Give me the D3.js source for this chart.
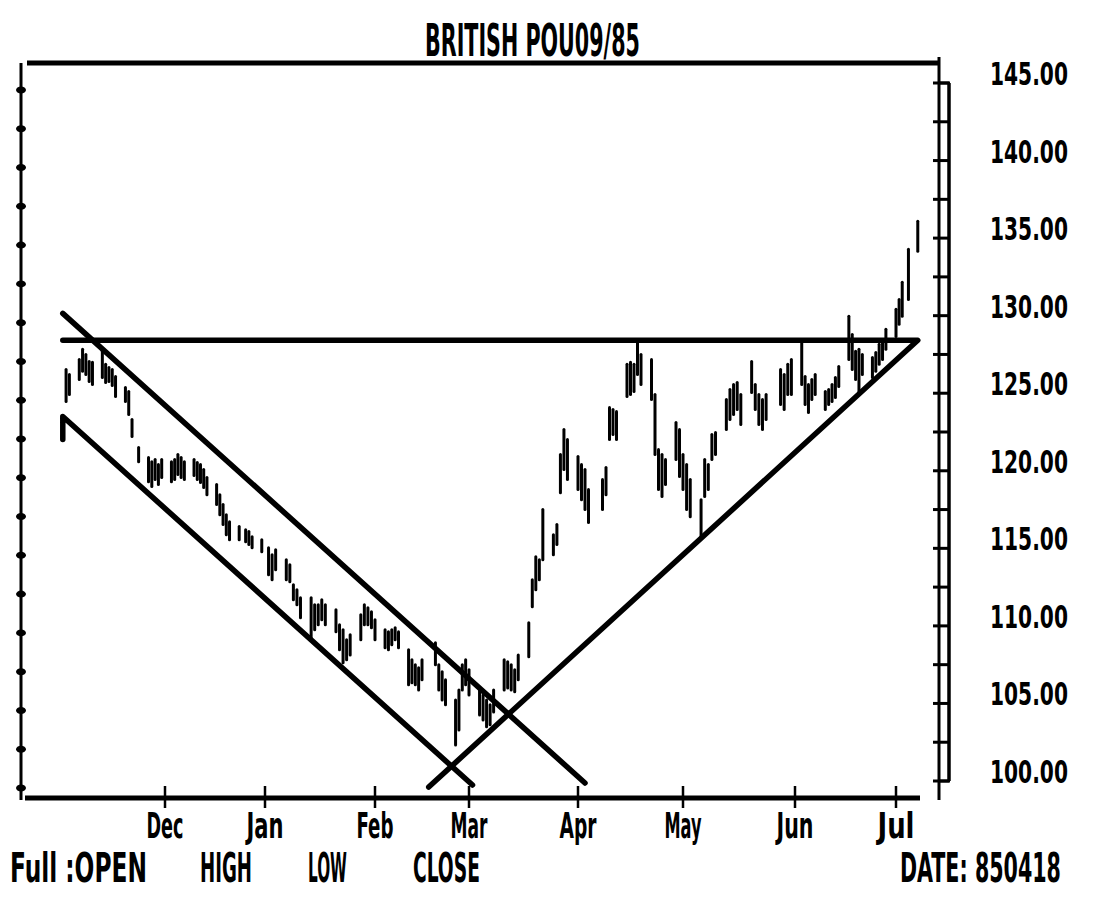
<!DOCTYPE html>
<html><head><meta charset="utf-8">
<script src="https://cdn.jsdelivr.net/npm/d3@7"></script>
<style>body{margin:0;background:#fff}svg{display:block}</style>
</head><body>
<svg id="c" width="1093" height="897"></svg>
<script>
// ---------- DATA ----------
const title = "BRITISH POU09/85";
const months = ["Dec","Jan","Feb","Mar","Apr","May","Jun","Jul"];
const monthStarts = ["1984-12-01","1985-01-01","1985-02-01","1985-03-01","1985-04-01","1985-05-01","1985-06-01","1985-07-01"];
const priceLabels = [100,105,110,115,120,125,130,135,140,145];
const priceTicks = [100,102.5,105,107.5,110,112.5,115,117.5,120,122.5,125,127.5,130,132.5,135,137.5,140,142.5,145];
const legendItems = ["Full :OPEN","HIGH","LOW","CLOSE"];
const dateNote = "DATE: 850418";

const dates = [
 "1984-11-01","1984-11-02","1984-11-05","1984-11-06","1984-11-07","1984-11-08","1984-11-09","1984-11-12","1984-11-13","1984-11-14","1984-11-15","1984-11-16","1984-11-19","1984-11-20","1984-11-21","1984-11-23","1984-11-26","1984-11-27","1984-11-28","1984-11-29","1984-11-30",
 "1984-12-03","1984-12-04","1984-12-05","1984-12-06","1984-12-07","1984-12-10","1984-12-11","1984-12-12","1984-12-13","1984-12-14","1984-12-17","1984-12-18","1984-12-19","1984-12-20","1984-12-21","1984-12-24","1984-12-26","1984-12-27","1984-12-28","1984-12-31",
 "1985-01-02","1985-01-03","1985-01-04","1985-01-07","1985-01-08","1985-01-09","1985-01-10","1985-01-11","1985-01-14","1985-01-15","1985-01-16","1985-01-17","1985-01-18","1985-01-21","1985-01-22","1985-01-23","1985-01-24","1985-01-25","1985-01-28","1985-01-29","1985-01-30","1985-01-31",
 "1985-02-01","1985-02-04","1985-02-05","1985-02-06","1985-02-07","1985-02-08","1985-02-11","1985-02-12","1985-02-13","1985-02-14","1985-02-15","1985-02-19","1985-02-20","1985-02-21","1985-02-22","1985-02-25","1985-02-26","1985-02-27","1985-02-28",
 "1985-03-01","1985-03-04","1985-03-05","1985-03-06","1985-03-07","1985-03-08","1985-03-11","1985-03-12","1985-03-13","1985-03-14","1985-03-15","1985-03-18","1985-03-19","1985-03-20","1985-03-21","1985-03-22","1985-03-25","1985-03-26","1985-03-27","1985-03-28","1985-03-29",
 "1985-04-01","1985-04-02","1985-04-03","1985-04-04","1985-04-08","1985-04-09","1985-04-10","1985-04-11","1985-04-12","1985-04-15","1985-04-16","1985-04-17","1985-04-18","1985-04-19","1985-04-22","1985-04-23","1985-04-24","1985-04-25","1985-04-26","1985-04-29","1985-04-30",
 "1985-05-01","1985-05-02","1985-05-03","1985-05-06","1985-05-07","1985-05-08","1985-05-09","1985-05-10","1985-05-13","1985-05-14","1985-05-15","1985-05-16","1985-05-17","1985-05-20","1985-05-21","1985-05-22","1985-05-23","1985-05-24","1985-05-28","1985-05-29","1985-05-30","1985-05-31",
 "1985-06-03","1985-06-04","1985-06-05","1985-06-06","1985-06-07","1985-06-10","1985-06-11","1985-06-12","1985-06-13","1985-06-14","1985-06-17","1985-06-18","1985-06-19","1985-06-20","1985-06-21","1985-06-24","1985-06-25","1985-06-26","1985-06-27","1985-06-28",
 "1985-07-01","1985-07-02","1985-07-03","1985-07-05","1985-07-08"
];
const highs = [
 126.53,126.21,127.18,127.83,127.50,127.05,126.99,127.70,126.86,126.66,126.53,126.08,125.37,125.11,123.31,121.50,120.85,120.59,120.72,120.40,120.72,
 120.59,120.72,121.05,120.85,120.59,120.72,120.53,120.40,120.08,119.56,119.11,118.46,117.82,117.17,116.72,116.40,116.20,116.08,115.75,115.56,
 115.04,114.59,114.91,114.27,113.94,112.65,112.33,111.81,111.81,111.36,111.36,111.69,111.36,111.04,110.07,109.75,109.10,109.43,110.72,111.36,111.17,110.91,
 110.39,109.75,109.62,109.75,109.88,109.62,108.46,107.81,107.49,107.30,107.81,108.91,107.49,107.04,106.52,105.23,105.87,107.49,107.81,
 107.17,105.87,105.55,105.23,104.91,105.87,107.81,107.68,107.49,107.17,108.13,110.20,112.98,114.46,114.27,117.50,115.88,116.53,121.05,122.66,122.01,
 120.92,120.40,120.08,118.79,119.43,120.21,124.08,123.95,123.82,126.86,126.99,126.86,128.28,127.50,127.18,124.92,121.37,121.05,120.72,123.11,122.66,
 121.05,120.40,119.43,118.14,120.72,120.40,122.34,122.47,124.60,125.24,125.57,125.69,124.92,127.05,125.57,124.92,124.60,124.92,126.53,126.21,126.86,127.18,
 128.34,126.08,125.57,125.89,126.21,125.11,125.24,125.57,126.02,126.73,129.96,128.79,127.70,127.83,127.50,127.31,127.63,128.15,128.28,129.12,
 130.41,131.05,132.15,134.28,136.09
];
const lows = [
 124.47,124.92,125.89,126.41,126.21,125.76,125.57,126.02,125.69,125.76,125.50,124.79,124.47,123.63,122.21,120.59,119.30,118.98,119.43,119.11,119.56,
 119.30,119.43,119.76,119.56,119.43,119.69,119.43,119.24,118.92,118.46,117.82,117.17,116.53,115.88,115.56,115.56,115.43,115.24,115.04,114.78,
 113.30,112.98,113.62,112.98,112.85,111.69,111.36,110.52,109.10,109.75,110.07,110.39,110.07,109.62,108.46,107.62,107.81,108.13,109.10,110.07,110.07,109.88,
 109.10,108.59,108.46,108.78,109.10,108.59,106.20,106.33,106.20,105.87,106.52,107.49,105.87,105.23,104.91,102.32,103.29,105.87,106.20,
 105.55,104.26,103.94,103.49,103.62,104.45,105.87,106.00,105.87,105.75,106.52,108.01,111.23,112.33,112.98,114.27,114.59,115.24,118.59,120.08,119.43,
 118.79,118.14,117.50,116.66,117.50,118.46,122.01,122.34,122.01,124.79,124.92,125.11,126.21,125.57,124.60,121.05,118.79,118.34,119.11,120.72,119.63,
 118.79,117.50,117.04,115.75,118.34,118.79,120.72,121.05,122.66,123.31,123.63,123.95,122.98,125.05,123.95,122.98,122.66,123.31,124.27,123.95,124.92,124.92,
 125.57,124.27,123.76,124.60,124.92,123.95,124.27,124.47,124.73,125.44,127.18,126.53,125.89,125.05,126.21,126.02,126.41,126.86,127.18,127.83,
 128.66,129.44,129.96,131.05,134.15
];

// hand-drawn trend lines (date, price)
const channelUpper = [["1984-10-31",130.15],["1985-04-03",99.87]];
const channelLower = [["1984-10-31",122.01],["1984-10-31",123.50],["1985-03-02",99.74]];
const supportResist = [["1985-02-17",99.61],["1985-07-08",128.41],["1984-10-31",128.41]];

// ---------- DRAW ----------
const parse = d3.timeParse("%Y-%m-%d");
const FONT = "'DejaVu Sans Condensed','DejaVu Sans',sans-serif";
const svg = d3.select("#c");

const x = d3.scaleTime()
  .domain(["1984-10-25"].concat(monthStarts, ["1985-07-10"]).map(parse))
  .range([43,165,265,375,469,578,683,795,896,924]);
const y = d3.scaleLinear().domain([100,145]).range([781,83]);

// text squeezed horizontally to a target width (condensed look of the original)
function txt(s, tx, ty, size, len, anchor){
  const t = svg.append("text")
    .attr("font-family",FONT).attr("font-weight","bold").attr("font-size",size)
    .attr("fill","#000").text(s);
  const w = t.node().getComputedTextLength();
  const sx = len / w;
  const x0 = anchor === "middle" ? tx - len/2 : tx;
  t.attr("transform", `translate(${x0},${ty}) scale(${sx},1)`);
}

// frame: top line, left axis, bottom axis
svg.append("line").attr("x1",27).attr("x2",940).attr("y1",63).attr("y2",63).attr("stroke","#000").attr("stroke-width",5);
svg.append("line").attr("x1",21).attr("x2",21).attr("y1",63).attr("y2",800).attr("stroke","#000").attr("stroke-width",3);
svg.append("line").attr("x1",25).attr("x2",920).attr("y1",798).attr("y2",798).attr("stroke","#000").attr("stroke-width",5);

// left axis dots
svg.append("g").attr("transform","translate(0,7)").selectAll("ellipse").data(priceTicks).join("ellipse")
  .attr("cx",21).attr("cy",d=>y(d)).attr("rx",5).attr("ry",3.5).attr("fill","#000");

// right axis (double rail)
svg.append("line").attr("x1",939).attr("x2",939).attr("y1",57).attr("y2",800).attr("stroke","#000").attr("stroke-width",3);
svg.append("line").attr("x1",949).attr("x2",949).attr("y1",y(145)).attr("y2",y(100)).attr("stroke","#000").attr("stroke-width",3.5);
svg.append("g").selectAll("line").data([100,145]).join("line")
  .attr("x1",939).attr("x2",950).attr("y1",d=>y(d)).attr("y2",d=>y(d)).attr("stroke","#000").attr("stroke-width",3);
svg.append("g").selectAll("line").data(priceTicks).join("line")
  .attr("x1",933).attr("x2",949).attr("y1",d=>y(d)).attr("y2",d=>y(d)).attr("stroke","#000").attr("stroke-width",3);
priceLabels.forEach(v=>txt(v.toFixed(2), 990, y(v)+2, 32, 78));

// month ticks + labels
monthStarts.forEach((m,i)=>{
  const px = x(parse(m));
  svg.append("line").attr("x1",px).attr("x2",px).attr("y1",786).attr("y2",808).attr("stroke","#000").attr("stroke-width",2.5);
  txt(months[i], px, 838, 35, 37, "middle");
});

// price bars
svg.append("g").selectAll("line").data(dates).join("line")
  .attr("x1",d=>x(parse(d))).attr("x2",d=>x(parse(d)))
  .attr("y1",(d,i)=>y(highs[i])).attr("y2",(d,i)=>y(lows[i]))
  .attr("stroke","#000").attr("stroke-width",3).attr("stroke-linecap","round");

// trend lines
const tl = d3.line().x(d=>x(parse(d[0]))).y(d=>y(d[1]));
[channelUpper, channelLower, supportResist].forEach(p=>{
  svg.append("path").attr("d",tl(p)).attr("fill","none").attr("stroke","#000")
    .attr("stroke-width",5.5).attr("stroke-linecap","round").attr("stroke-linejoin","round");
});

// title and footer
txt(title, 425, 56, 44, 215);
const legX = [10,200,308,413], legL = [137,52,39,67];
legendItems.forEach((s,i)=>txt(s, legX[i], 882, 40, legL[i]));
txt(dateNote, 900, 882, 40, 161);
</script>
</body></html>
